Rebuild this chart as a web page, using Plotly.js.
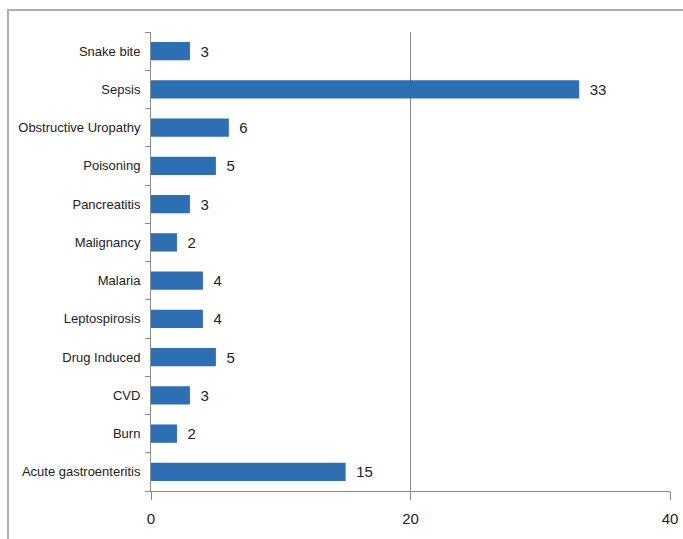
<!DOCTYPE html>
<html>
<head>
<meta charset="utf-8">
<script src="https://cdn.plot.ly/plotly-3.0.1.min.js"></script>
<style>
html,body{margin:0;padding:0;background:#fff;}
#wrap{position:relative;width:683px;height:539px;overflow:hidden;}
#frame{position:absolute;left:7px;top:9px;width:700px;height:560px;border-top:2px solid #b0b0b0;border-left:2px solid #b0b0b0;pointer-events:none;}
#chart{position:absolute;left:0;top:0;width:683px;height:539px;}
</style>
</head>
<body>
<div id="wrap"><div id="chart"></div><div id="frame"></div></div>
<script>
const categories = ["Acute gastroenteritis","Burn","CVD","Drug Induced","Leptospirosis","Malaria","Malignancy","Pancreatitis","Poisoning","Obstructive Uropathy","Sepsis","Snake bite"];
const values = [15, 2, 3, 5, 4, 4, 2, 3, 5, 6, 33, 3];
const xTicks = [0, 20, 40];

const fontFam = "'Liberation Sans Narrow','Liberation Sans',Arial,sans-serif";

const trace = {
  type: 'bar',
  orientation: 'h',
  y: categories,
  x: values,
  texttemplate: '\u2002%{x}',
  textposition: 'outside',
  cliponaxis: false,
  textfont: {family: fontFam, size: 15, color: '#222'},
  marker: {color: '#2E6EB3', line: {width: 0}},
  hoverinfo: 'none'
};

const layout = {
  width: 683, height: 539,
  margin: {l: 151, r: 13, t: 32, b: 48},
  paper_bgcolor: 'rgba(0,0,0,0)',
  plot_bgcolor: '#fff',
  showlegend: false,
  bargap: 0.52,
  font: {family: fontFam, size: 14, color: '#222'},
  xaxis: {
    range: [0, 40],
    tickvals: xTicks,
    ticktext: xTicks.map(String),
    showgrid: true, gridcolor: '#8a8a8a', gridwidth: 1,
    zeroline: false,
    showline: true, linecolor: '#8a8a8a', linewidth: 1,
    ticks: 'outside', ticklen: 8, tickcolor: '#8a8a8a',
    ticklabelstandoff: 6,
    tickfont: {family: fontFam, size: 15, color: '#222'},
    fixedrange: true
  },
  yaxis: {
    type: 'category',
    categoryorder: 'array',
    categoryarray: categories,
    showgrid: false,
    zeroline: false,
    showline: true, linecolor: '#8a8a8a', linewidth: 1,
    ticks: 'outside', ticklen: 5, tickcolor: '#8a8a8a',
    tickson: 'boundaries',
    ticklabelstandoff: 7,
    tickfont: {family: fontFam, size: 13, color: '#222'},
    fixedrange: true
  }
};

Plotly.newPlot('chart', [trace], layout, {displayModeBar: false, staticPlot: true});
</script>
</body>
</html>
